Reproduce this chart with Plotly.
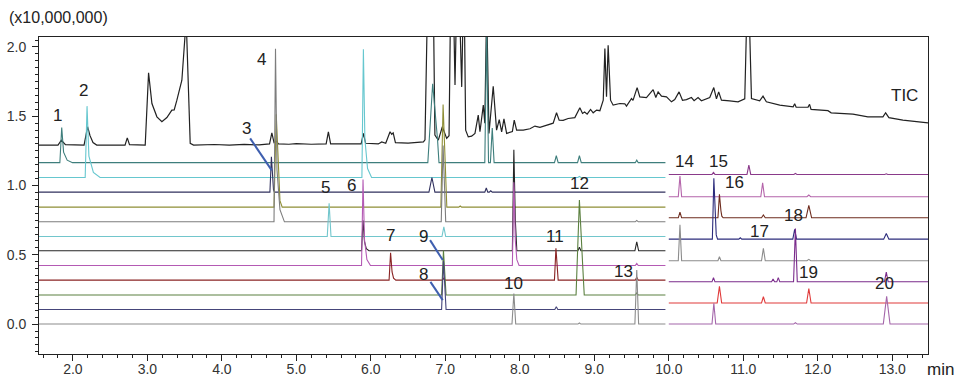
import plotly.graph_objects as go

# ---------------- data (retention time in min, intensity in x10,000,000) ----------------
tic_x = [1.545, 1.80, 1.845, 1.87, 1.90, 2.15, 2.197, 2.23, 2.27, 2.32, 2.70, 2.73, 2.76, 2.971,
         3.016, 3.061, 3.128, 3.195, 3.262, 3.329, 3.36, 3.396, 3.463, 3.521, 3.575, 3.62, 3.9, 4.1,
         4.3, 4.5, 4.64, 4.671, 4.70, 4.73, 4.76, 4.9, 5.0, 5.2, 5.40, 5.43, 5.46, 5.87, 5.90, 5.93,
         6.10, 6.146, 6.20, 6.258, 6.28, 6.30, 6.33, 6.5, 6.6, 6.706, 6.727, 6.76, 6.84, 6.86, 6.906,
         6.96, 7.018, 7.05, 7.07, 7.11, 7.13, 7.15, 7.19, 7.22, 7.24, 7.255, 7.273, 7.308, 7.353,
         7.398, 7.442, 7.465, 7.51, 7.53, 7.555, 7.586, 7.643, 7.688, 7.724, 7.756, 7.787, 7.823,
         7.90, 7.925, 7.957, 8.046, 8.136, 8.203, 8.27, 8.381, 8.448, 8.493, 8.528, 8.582, 8.649,
         8.739, 8.806, 8.842, 8.87, 8.904, 8.95, 8.985, 9.03, 9.075, 9.12, 9.142, 9.164, 9.186,
         9.218, 9.253, 9.343, 9.41, 9.432, 9.5, 9.52, 9.575, 9.611, 9.70, 9.79, 9.826, 9.857,
         9.902, 9.969, 10.036, 10.08, 10.138, 10.184, 10.237, 10.304, 10.34, 10.393, 10.438,
         10.496, 10.55, 10.604, 10.64, 10.67, 10.707, 10.818, 10.93, 11.02, 11.05, 11.077, 11.11,
         11.22, 11.265, 11.31, 11.49, 11.67, 11.69, 11.71, 11.87, 11.89, 11.91, 12.137, 12.18,
         12.472, 12.673, 12.875, 12.911, 12.955, 13.143, 13.48]
tic_y = [1.291, 1.291, 1.327, 1.31, 1.295, 1.292, 1.424, 1.36, 1.31, 1.292, 1.291, 1.344, 1.295, 1.292,
         1.813, 1.592, 1.496, 1.46, 1.491, 1.544, 1.546, 1.616, 1.76, 2.2, 1.304, 1.292, 1.296, 1.292,
         1.297, 1.293, 1.30, 1.38, 1.31, 1.32, 1.30, 1.298, 1.302, 1.298, 1.30, 1.388, 1.30, 1.30, 1.376, 1.305,
         1.30, 1.315, 1.305, 1.388, 1.37, 1.38, 1.31, 1.306, 1.312, 1.315, 1.33, 2.3, 2.3, 1.364, 1.328,
         1.424, 1.34, 1.36, 2.3, 2.3, 1.725, 2.3, 2.3, 1.712, 2.3, 2.3, 1.40, 1.351, 1.356,
         1.376, 1.508, 1.388, 1.58, 1.45, 2.3, 1.376, 1.717, 1.40, 1.476, 1.388, 1.481, 1.376,
         1.39, 1.472, 1.40, 1.40, 1.41, 1.429, 1.42, 1.436, 1.45, 1.525, 1.472, 1.47, 1.484,
         1.49, 1.562, 1.520, 1.53, 1.515, 1.549, 1.525, 1.544, 1.54, 1.616, 1.989, 1.64, 2.013,
         1.616, 1.58, 1.592, 1.59, 1.573, 1.628, 1.615, 1.707, 1.64, 1.635, 1.692, 1.635, 1.676,
         1.645, 1.64, 1.604, 1.62, 1.676, 1.615, 1.62, 1.635, 1.612, 1.635, 1.612,
         1.626, 1.635, 1.707, 1.626, 1.676, 1.616, 1.611, 1.604, 1.626, 2.3, 2.3, 1.628,
         1.611, 1.645, 1.604, 1.580, 1.568, 1.59, 1.565, 1.566, 1.586, 1.549, 1.54, 1.525,
         1.515, 1.496, 1.496, 1.525, 1.49, 1.472, 1.452]

# left panel (1.5 - 10.0 min) mass chromatograms: baseline and peaks (rt, height, width, tail)
left_baselines = [1.165, 1.058, 0.952, 0.844, 0.738, 0.632, 0.529, 0.423, 0.317, 0.21, 0.105, 0.0]
left_peaks = [
    [(1.85, 0.254, 0.05, 0.12), (6.83, 0.57, 0.13, 0.02), (7.555, 0.95, 0.05, 0), (7.63, 0.25, 0.05, 0),
     (8.49, 0.05, 0.05, 0), (8.80, 0.05, 0.05, 0), (9.57, 0.018, 0.04, 0)],
    [(2.19, 0.515, 0.05, 0.15), (5.90, 0.925, 0.04, 0.09), (8.80, 0.008, 0.04, 0)],
    [(4.665, 0.255, 0.04, 0.02), (6.82, 0.106, 0.08, 0), (7.55, 0.03, 0.04, 0), (7.61, 0.01, 0.04, 0)],
    [(4.73, 0.67, 0.06, 0.05), (6.97, 0.74, 0.06, 0.02), (7.2, 0.008, 0.04, 0)],
    [(4.72, 1.25, 0.04, 0.10), (6.97, 0.55, 0.05, 0.01), (9.57, 0.01, 0.04, 0)],
    [(5.44, 0.24, 0.05, 0), (6.98, 0.07, 0.05, 0)],
    [(5.895, 0.22, 0.04, 0.06), (7.92, 0.73, 0.04, 0.02), (8.80, 0.025, 0.04, 0), (9.57, 0.065, 0.05, 0)],
    [(5.895, 0.62, 0.04, 0.08), (7.92, 0.60, 0.04, 0.05), (9.57, 0.015, 0.04, 0)],
    [(6.265, 0.197, 0.04, 0.05), (6.98, 0.015, 0.04, 0), (8.485, 0.23, 0.04, 0.01), (9.57, 0.02, 0.04, 0)],
    [(6.975, 0.32, 0.05, 0.01), (8.80, 0.685, 0.09, 0.02), (9.57, 0.015, 0.04, 0)],
    [(6.975, 0.35, 0.05, 0.01), (8.49, 0.02, 0.04, 0)],
    [(7.92, 0.22, 0.05, 0), (8.80, 0.008, 0.04, 0), (9.57, 0.39, 0.05, 0)],
]
left_colors = ["#3E7E7C", "#66C7CF", "#30305E", "#8E8E36", "#7D7D7D", "#72C6CC",
               "#262626", "#B45AB4", "#8A2424", "#5B8040", "#45457A", "#8C8C8C"]

# right panel (10.0 - 13.5 min)
right_baselines = [1.08, 0.919, 0.767, 0.613, 0.457, 0.305, 0.152, 0.0]
right_peaks = [
    [(10.6, 0.015, 0.04, 0), (11.075, 0.067, 0.05, 0), (11.7, 0.008, 0.04, 0), (12.92, 0.005, 0.04, 0)],
    [(10.15, 0.15, 0.045, 0), (11.26, 0.10, 0.05, 0), (11.88, 0.012, 0.05, 0)],
    [(10.15, 0.04, 0.045, 0), (10.68, 0.17, 0.04, 0.03), (11.27, 0.02, 0.05, 0), (11.88, 0.09, 0.075, 0)],
    [(10.605, 0.44, 0.04, 0.03), (10.96, 0.01, 0.04, 0), (11.69, 0.07, 0.05, 0), (12.92, 0.04, 0.07, 0)],
    [(10.15, 0.26, 0.045, 0), (10.68, 0.03, 0.04, 0), (11.27, 0.09, 0.05, 0), (11.88, 0.01, 0.05, 0)],
    [(10.6, 0.03, 0.04, 0), (11.4, 0.02, 0.04, 0), (11.47, 0.03, 0.04, 0), (11.7, 0.385, 0.05, 0),
     (12.92, 0.07, 0.05, 0)],
    [(10.68, 0.12, 0.06, 0), (11.27, 0.045, 0.05, 0), (11.88, 0.105, 0.06, 0)],
    [(10.605, 0.15, 0.05, 0), (11.7, 0.01, 0.05, 0), (12.925, 0.20, 0.09, 0)],
]
right_colors = ["#8A3A8A", "#B464AA", "#6E2C1E", "#2C2C7C", "#8C8C8C", "#7B2C8C", "#E03A3A", "#A466AA"]

peak_labels = ["1", "2", "3", "4", "5", "6", "7", "8", "9", "10", "11", "12", "13",
               "14", "15", "16", "17", "18", "19", "20", "TIC"]
label_rt = [1.787, 2.144, 4.335, 4.537, 5.386, 5.735, 6.267, 6.713, 6.705, 7.92, 8.47, 8.797, 9.396,
            10.21, 10.67, 10.88, 11.22, 11.67, 11.87, 12.90, 13.166]
label_int = [1.508, 1.688, 1.412, 1.91, 0.986, 1.003, 0.642, 0.358, 0.63, 0.294, 0.63, 1.015, 0.377,
             1.171, 1.171, 1.022, 0.671, 0.786, 0.37, 0.294, 1.652]

# leader lines for labels 3, 9, 8: (rt0, int0, rt1, int1)
leaders = [(4.38, 1.34, 4.67, 1.109), (6.795, 0.606, 6.965, 0.462), (6.80, 0.305, 6.965, 0.173)]

X_LEFT = (1.545, 9.955)
X_RIGHT = (10.0, 13.48)


def trace_xy(base, peaks, x0, x1):
    xs, ys = [x0], [base]
    for rt, h, w, tail in sorted(peaks):
        xs += [rt - w / 2, rt]
        ys += [base, base + h]
        if tail > 0:
            xs += [rt + w * 0.5, rt + w * 0.5 + tail * 0.4, rt + w * 0.5 + tail]
            ys += [base + h * 0.3, base + h * 0.07, base]
        else:
            xs += [rt + w / 2]
            ys += [base]
    xs.append(x1)
    ys.append(base)
    return xs, ys


fig = go.Figure()
fig.add_trace(go.Scatter(x=tic_x, y=tic_y, mode="lines", line=dict(color="#222222", width=1.2),
                         showlegend=False, hoverinfo="skip"))
for base, peaks, col in zip(left_baselines, left_peaks, left_colors):
    xs, ys = trace_xy(base, peaks, *X_LEFT)
    fig.add_trace(go.Scatter(x=xs, y=ys, mode="lines", line=dict(color=col, width=1.1),
                             showlegend=False, hoverinfo="skip"))
for base, peaks, col in zip(right_baselines, right_peaks, right_colors):
    xs, ys = trace_xy(base, peaks, *X_RIGHT)
    fig.add_trace(go.Scatter(x=xs, y=ys, mode="lines", line=dict(color=col, width=1.1),
                             showlegend=False, hoverinfo="skip"))

for x0, y0, x1, y1 in leaders:
    fig.add_shape(type="line", x0=x0, y0=y0, x1=x1, y1=y1, xref="x", yref="y",
                  line=dict(color="#3F5FAF", width=2))

for t, xv, yv in zip(peak_labels, label_rt, label_int):
    fig.add_annotation(x=xv, y=yv, text=t, showarrow=False, xref="x", yref="y",
                       font=dict(family="Arial, Liberation Sans, sans-serif", size=17, color="#222222"))

fig.add_annotation(x=-0.036, y=1.06, xref="paper", yref="paper", text="(x10,000,000)",
                   showarrow=False, xanchor="left", yanchor="middle",
                   font=dict(family="Arial, Liberation Sans, sans-serif", size=16, color="#222222"))
fig.add_annotation(x=1.0135, y=-0.05, xref="paper", yref="paper", text="min",
                   showarrow=False, xanchor="center", yanchor="middle",
                   font=dict(family="Arial, Liberation Sans, sans-serif", size=17, color="#222222"))

axis_font = dict(family="Arial, Liberation Sans, sans-serif", size=14, color="#333333")
fig.update_layout(
    width=959, height=380,
    margin=dict(l=39, r=31, t=37, b=26, autoexpand=False),
    plot_bgcolor="white", paper_bgcolor="white",
    xaxis=dict(range=[1.545, 13.48], tick0=0, dtick=1, tickformat=".1f", ticks="outside",
               ticklen=6, tickcolor="#222", showline=True, linecolor="#222", linewidth=1,
               mirror=True, showgrid=False, zeroline=False, tickfont=axis_font, automargin=False,
               ticklabelstandoff=-4,
               minor=dict(dtick=0.2, ticks="outside", ticklen=3, tickcolor="#222")),
    yaxis=dict(range=[-0.216, 2.072], tick0=0, dtick=0.5, tickformat=".1f", ticks="outside",
               ticklen=6, tickcolor="#222", showline=True, linecolor="#222", linewidth=1,
               mirror=True, showgrid=False, zeroline=False, tickfont=axis_font, automargin=False,
               ticklabelstandoff=3,
               minor=dict(dtick=0.05, ticks="outside", ticklen=3, tickcolor="#222")),
)

fig.write_html("out.html")
